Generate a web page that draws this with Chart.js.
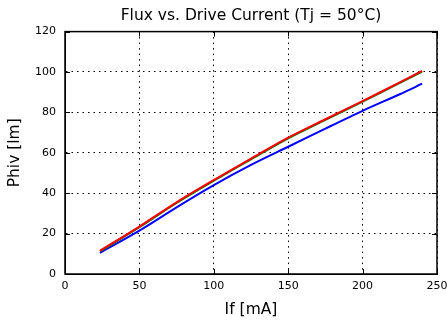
<!DOCTYPE html>
<html>
<head>
<meta charset="utf-8">
<script src="https://cdn.jsdelivr.net/npm/chart.js@4/dist/chart.umd.min.js"></script>
<style>
  html, body { margin: 0; padding: 0; background: #fff; }
  #wrap { width: 447px; height: 320px; }
</style>
</head>
<body>
<div id="wrap"><canvas id="fluxChart"></canvas></div>
<script>
// drive current values (mA)
const currents = [23.5, 50, 75, 100, 125, 150, 175, 200, 225, 240];
// flux curves (lm)
const fluxBlue  = [10.5, 21.5, 33, 44, 54, 63, 72, 80.8, 89, 94.2];
const fluxGreen = [11.2, 23.2, 35.2, 46.2, 56.8, 67.2, 76.3, 85.3, 94.6, 100.2];
const fluxRed   = [11.5, 23.5, 35.5, 46.5, 57.1, 67.5, 76.6, 85.6, 94.9, 100.6];
const xTicks = [0, 50, 100, 150, 200, 250];
const yTicks = [0, 20, 40, 60, 80, 100, 120];

const toPoints = (ys) => currents.map((x, i) => ({ x: x, y: ys[i] }));

// frame + inward tick marks, matplotlib classic look
const framePlugin = {
  id: 'frame',
  afterDraw(chart) {
    const { ctx, chartArea: a, scales } = chart;
    ctx.save();
    ctx.strokeStyle = '#000';
    ctx.lineWidth = 1;
    ctx.beginPath();
    xTicks.forEach(v => {
      const px = Math.round(scales.x.getPixelForValue(v)) + 0.5;
      ctx.moveTo(px, a.bottom); ctx.lineTo(px, a.bottom - 5);
      ctx.moveTo(px, a.top); ctx.lineTo(px, a.top + 5);
    });
    yTicks.forEach(v => {
      const py = Math.round(scales.y.getPixelForValue(v)) + 0.5;
      ctx.moveTo(a.left, py); ctx.lineTo(a.left + 5, py);
      ctx.moveTo(a.right, py); ctx.lineTo(a.right - 5, py);
    });
    ctx.stroke();
    ctx.lineWidth = 1.5;
    ctx.strokeRect(a.left, a.top, a.right - a.left, a.bottom - a.top);
    ctx.restore();
  }
};

const fluxChart = new Chart(document.getElementById('fluxChart').getContext('2d'), {
  type: 'line',
  data: {
    datasets: [
      { label: 'red', data: toPoints(fluxRed), borderColor: '#ff0000', borderWidth: 2, order: 0 },
      { label: 'green', data: toPoints(fluxGreen), borderColor: '#008000', borderWidth: 2, order: 1 },
      { label: 'blue', data: toPoints(fluxBlue), borderColor: '#0000ff', borderWidth: 2, order: 2 }
    ]
  },
  options: {
    responsive: true,
    maintainAspectRatio: false,
    animation: false,
    elements: { point: { radius: 0 }, line: { tension: 0.3 } },
    layout: { padding: { top: 0, right: 10, left: 0, bottom: 0 } },
    plugins: {
      legend: { display: false },
      tooltip: { enabled: false },
      title: {
        display: true,
        fullSize: false,
        text: 'Flux vs. Drive Current (Tj = 50°C)',
        color: '#000',
        font: { family: 'DejaVu Sans', size: 15.5, weight: 'normal' },
        padding: { top: 7, bottom: 6 }
      }
    },
    scales: {
      x: {
        type: 'linear',
        min: 0, max: 250,
        afterBuildTicks: s => { s.ticks = xTicks.map(v => ({ value: v })); },
        afterFit: s => { s.height = 46; s.paddingLeft = 0; s.paddingRight = 0; },
        ticks: { color: '#000', font: { family: 'DejaVu Sans', size: 11 }, padding: 6, maxRotation: 0 },
        grid: { color: '#000', lineWidth: 1, drawTicks: false },
        border: { display: true, color: '#000', dash: [1.5, 4] },
        title: { display: true, text: 'If [mA]', color: '#000', font: { family: 'DejaVu Sans', size: 15.5 }, padding: { top: 0, bottom: 1 } }
      },
      y: {
        min: 0, max: 120,
        afterBuildTicks: s => { s.ticks = yTicks.map(v => ({ value: v })); },
        afterFit: s => { s.width = 65; s.paddingTop = 0; s.paddingBottom = 0; },
        ticks: { color: '#000', font: { family: 'DejaVu Sans', size: 11 }, padding: 9 },
        grid: { color: '#000', lineWidth: 1, drawTicks: false },
        border: { display: true, color: '#000', dash: [1.5, 4] },
        title: { display: true, text: 'Phiv [lm]', color: '#000', font: { family: 'DejaVu Sans', size: 15.5 }, padding: { top: 6, bottom: 4 } }
      }
    }
  },
  plugins: [framePlugin]
});
</script>
</body>
</html>
